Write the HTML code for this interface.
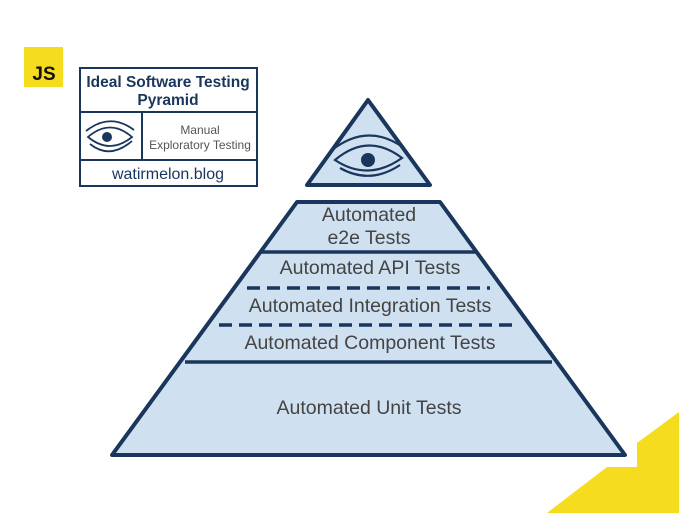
<!DOCTYPE html>
<html><head><style>
body{margin:0;width:679px;height:513px;overflow:hidden;background:#fff;font-family:"Liberation Sans",sans-serif;}
</style></head><body>
<svg width="679" height="513" viewBox="0 0 679 513" xmlns="http://www.w3.org/2000/svg" font-family="Liberation Sans, sans-serif">
<polygon points="547,513 607,467 637,467 637,443 679,412 679,513" fill="#f5dc1e"/>
<rect x="24" y="47" width="39" height="40" fill="#f5dc1e"/>
<text x="44" y="80" font-size="19" font-weight="bold" text-anchor="middle" fill="#111">JS</text>
<g stroke="#1b365d" stroke-width="2" fill="none">
<rect x="80" y="68" width="177" height="118"/>
<line x1="80" y1="112" x2="257" y2="112"/>
<line x1="80" y1="160" x2="257" y2="160"/>
<line x1="142" y1="112" x2="142" y2="160"/>
</g>
<text x="168" y="87" font-size="15.5" font-weight="bold" text-anchor="middle" fill="#1b365d">Ideal Software Testing</text>
<text x="168" y="105" font-size="15.5" font-weight="bold" text-anchor="middle" fill="#1b365d">Pyramid</text>
<text x="200" y="134" font-size="12" text-anchor="middle" fill="#555">Manual</text>
<text x="200" y="149" font-size="12" text-anchor="middle" fill="#555">Exploratory Testing</text>
<text x="168" y="179" font-size="16" text-anchor="middle" fill="#1b365d">watirmelon.blog</text>
<g stroke="#1b365d" stroke-width="1.8" fill="none">
<path d="M88 137 Q110 118 132 137 Q110 155 88 137Z"/>
<path d="M86 131 Q110 112 134 130"/>
<path d="M90 144 Q110 160 132 141"/>
</g>
<circle cx="107" cy="137" r="5" fill="#1b365d"/>
<g stroke="#1b365d" stroke-width="4" fill="#cfe0f1" stroke-linejoin="round">
<polygon points="368,100 430,185 307,185"/>
<polygon points="297,202 440,202 625,455 112,455"/>
</g>
<g stroke="#1b365d" stroke-width="2.2" fill="none">
<path d="M335 160 Q368 132 402 158 Q368 182 335 160Z"/>
<path d="M332 150 Q368 122 404 148"/>
<path d="M340 168 Q370 185 400 165"/>
</g>
<circle cx="368" cy="160" r="7" fill="#1b365d"/>
<g stroke="#1b365d" stroke-width="3.5">
<line x1="260" y1="252" x2="477" y2="252"/>
<line x1="247" y1="288" x2="490" y2="288" stroke-dasharray="13,7"/>
<line x1="219" y1="325" x2="518" y2="325" stroke-dasharray="13,7"/>
<line x1="185" y1="362" x2="552" y2="362"/>
</g>
<g font-size="19.5" fill="#444" text-anchor="middle">
<text x="369" y="221">Automated</text>
<text x="369" y="244">e2e Tests</text>
<text x="370" y="274">Automated API Tests</text>
<text x="370" y="312">Automated Integration Tests</text>
<text x="370" y="349">Automated Component Tests</text>
<text x="369" y="414">Automated Unit Tests</text>
</g>
</svg>
</body></html>
